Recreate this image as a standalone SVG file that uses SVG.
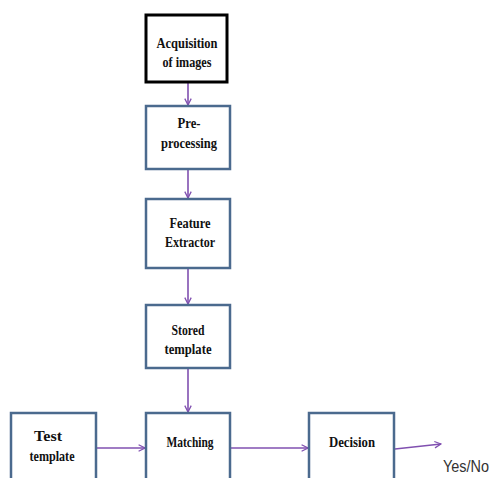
<svg xmlns="http://www.w3.org/2000/svg" width="493" height="478" viewBox="0 0 493 478">
<style>
.box{fill:#fff;stroke:#4b6a8e;stroke-width:2.5}
.blk{fill:#fff;stroke:#000;stroke-width:3}
.t{font-family:"Liberation Serif",serif;font-weight:bold;font-size:14.5px;fill:#111;text-anchor:middle}
.c{stroke:#8050b0;stroke-width:1.6;fill:none}
</style>
<defs>
<marker id="ah" viewBox="0 0 10 10" refX="9" refY="5" markerWidth="8" markerHeight="8" markerUnits="userSpaceOnUse" orient="auto">
<path d="M1,1 L9,5 L1,9" fill="none" stroke="#8050b0" stroke-width="1.6"/>
</marker>
</defs>
<rect width="493" height="478" fill="#fff"/>
<g id="connectors">
<line class="c" x1="188" y1="83" x2="188" y2="105" marker-end="url(#ah)"/>
<line class="c" x1="188" y1="170" x2="188" y2="198" marker-end="url(#ah)"/>
<line class="c" x1="188" y1="269" x2="188" y2="304" marker-end="url(#ah)"/>
<line class="c" x1="188" y1="369" x2="188" y2="412" marker-end="url(#ah)"/>
<line class="c" x1="97" y1="448" x2="145" y2="448" marker-end="url(#ah)"/>
<line class="c" x1="231" y1="448" x2="308" y2="448" marker-end="url(#ah)"/>
<line class="c" x1="395" y1="449" x2="441" y2="444" marker-end="url(#ah)"/>
</g>
<g id="acquisition">
<rect class="blk" x="146" y="15" width="81" height="67"/>
<text class="t" x="187" y="48" textLength="61" lengthAdjust="spacingAndGlyphs">Acquisition</text>
<text class="t" x="187" y="67" textLength="49" lengthAdjust="spacingAndGlyphs">of images</text>
</g>
<g id="preprocessing">
<rect class="box" x="146" y="106" width="84" height="63"/>
<text class="t" x="189" y="128" textLength="23" lengthAdjust="spacingAndGlyphs">Pre-</text>
<text class="t" x="189" y="148" textLength="56" lengthAdjust="spacingAndGlyphs">processing</text>
</g>
<g id="feature">
<rect class="box" x="146" y="199" width="84" height="69"/>
<text class="t" x="190" y="228" textLength="41" lengthAdjust="spacingAndGlyphs">Feature</text>
<text class="t" x="190" y="247" textLength="50" lengthAdjust="spacingAndGlyphs">Extractor</text>
</g>
<g id="stored">
<rect class="box" x="146" y="305" width="84" height="63"/>
<text class="t" x="188" y="335" textLength="33" lengthAdjust="spacingAndGlyphs">Stored</text>
<text class="t" x="188" y="354" textLength="47" lengthAdjust="spacingAndGlyphs">template</text>
</g>
<g id="test">
<rect class="box" x="11" y="413" width="85" height="70"/>
<text class="t" x="48" y="441" textLength="28" lengthAdjust="spacingAndGlyphs">Test</text>
<text class="t" x="52" y="461" textLength="45" lengthAdjust="spacingAndGlyphs">template</text>
</g>
<g id="matching">
<rect class="box" x="146" y="413" width="84" height="70"/>
<text class="t" x="190" y="447" textLength="47" lengthAdjust="spacingAndGlyphs">Matching</text>
</g>
<g id="decision">
<rect class="box" x="309" y="413" width="85" height="70"/>
<text class="t" x="352" y="447" textLength="46" lengthAdjust="spacingAndGlyphs">Decision</text>
</g>
<text x="443" y="472" font-family="Liberation Sans,sans-serif" font-size="16" fill="#333" textLength="46" lengthAdjust="spacingAndGlyphs">Yes/No</text>
</svg>
